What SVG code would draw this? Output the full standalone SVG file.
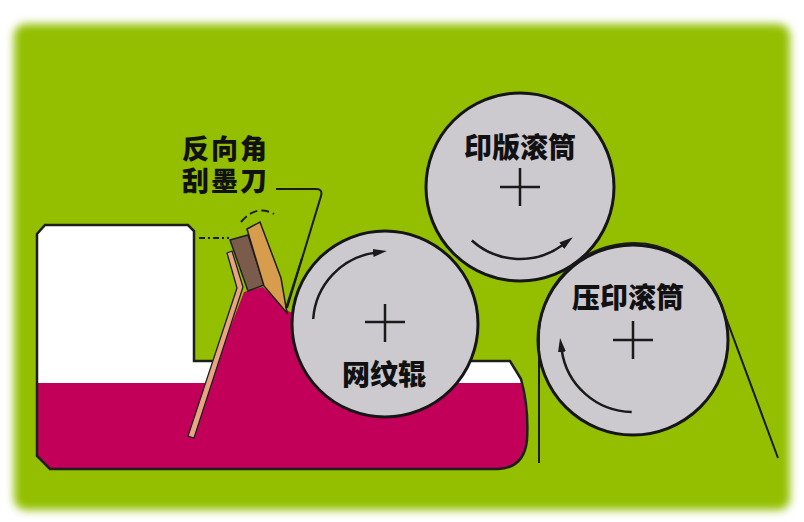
<svg xmlns="http://www.w3.org/2000/svg" width="804" height="522" viewBox="0 0 804 522">
  <defs>
    <filter id="soft" x="-5%" y="-5%" width="110%" height="110%">
      <feGaussianBlur stdDeviation="4"/>
    </filter>
    <marker id="head" viewBox="0 -5 14 10" markerWidth="14" markerHeight="10" refX="2" refY="0" orient="auto" markerUnits="userSpaceOnUse">
      <path d="M0,-4 L14,0 L0,4 Z" fill="#1a1a1a"/>
    </marker>
    <clipPath id="tankClip">
      <path d="M45 225 L188 225 L194 231 L194 361 L510 361 L521 379 Q529 408 527 440 Q524 468 498 469 L50 469 L37 456 L37 234 Z"/>
    </clipPath>
    <style>
      .roll { fill: #cdcacf; stroke: #151515; stroke-width: 3; }
      .mark { fill: none; stroke: #1a1a1a; stroke-width: 2.5; }
      .turn { fill: none; stroke: #1a1a1a; stroke-width: 2.5; marker-end: url(#head); }
      .line { fill: none; stroke: #1a1a1a; stroke-width: 2; }
      .label { font-family: "Noto Sans CJK SC", "Noto Sans", sans-serif; font-weight: 900; font-size: 28px; fill: #111; }
      .tight { font-family: "Liberation Sans", "Noto Sans CJK SC", sans-serif; font-size: 27px; }
    </style>
  </defs>

  <!-- backdrop -->
  <rect width="804" height="522" fill="#ffffff"/>
  <rect x="14" y="24" width="776" height="486" rx="12" fill="#93bf00" filter="url(#soft)"/>

  <!-- ink tank -->
  <g id="tank">
    <rect x="30" y="220" width="505" height="255" fill="#ffffff" clip-path="url(#tankClip)"/>
    <rect x="30" y="383" width="505" height="95" fill="#c2005a" clip-path="url(#tankClip)"/>
    <path d="M45 225 L188 225 L194 231 L194 361 L510 361 L521 379 Q529 408 527 440 Q524 468 498 469 L50 469 L37 456 L37 234 Z" fill="none" stroke="#1e1e1e" stroke-width="2.5"/>
  </g>

  <!-- ink pooled between blade and anilox roll -->
  <g id="ink">
    <polygon points="208,385 244,292 263,287 288,311 330,330 330,385" fill="#c2005a"/>
  </g>

  <!-- reverse angle doctor blade -->
  <g id="blade">
    <polygon points="230,240 248,235 264,285 248,291" fill="#7b5b4b" stroke="#1e1e1e" stroke-width="1.5"/>
    <polygon points="247,229 260,222 281,278 287,313 264,286" fill="#d89d4c" stroke="#1e1e1e" stroke-width="1.5"/>
    <polygon points="227,253 232,251 243,287 194,438 188,436 237,288" fill="#e8a383" stroke="#1e1e1e" stroke-width="1.3"/>
    <path d="M199 238 L229 238" fill="none" stroke="#1e1e1e" stroke-width="2" stroke-dasharray="6 3 2 3"/>
    <path d="M241 222 Q256 204 274 214" fill="none" stroke="#1e1e1e" stroke-width="2" stroke-dasharray="8 4"/>
  </g>

  <!-- anilox roll -->
  <g id="anilox">
    <circle class="roll" cx="385" cy="324" r="93"/>
    <path class="mark" d="M365 322 H405 M385 304 V342"/>
    <path class="turn" d="M313.2 319 A72 72 0 0 1 375 252.7"/>
    <text class="label" x="384" y="385" text-anchor="middle">网纹辊</text>
  </g>

  <!-- plate cylinder -->
  <g id="plate">
    <circle class="roll" cx="520" cy="187" r="94"/>
    <path class="mark" d="M500 187 H540 M520 168 V206"/>
    <path class="turn" d="M471.8 240.5 A72 72 0 0 0 563.3 244.5"/>
    <text class="label" x="520" y="158" text-anchor="middle">印版滚筒</text>
  </g>

  <!-- impression cylinder -->
  <g id="impression">
    <circle class="roll" cx="633" cy="340" r="95"/>
    <path class="mark" d="M613 340 H653 M633 321 V359"/>
    <path class="turn" d="M631.7 412 A72 72 0 0 1 561.7 350"/>
    <text class="label" x="628" y="308" text-anchor="middle">压印滚筒</text>
  </g>

  <!-- substrate web and leader -->
  <g id="connectors">
    <path class="line" d="M539 463 L539 340 A94 94 0 0 1 722 307 L778 458"/>
    <path class="line" d="M276 189 L316 189 Q323 189 321 196 L287 308"/>
    <path class="line" d="M302 258 L286 308" stroke-width="1.5"/>
  </g>

  <!-- blade label, two lines -->
  <g id="blade-label">
    <text class="label tight" x="182" y="159" letter-spacing="2">反向角</text>
    <text class="label tight" x="182" y="191" letter-spacing="2">刮墨刀</text>
  </g>
</svg>
